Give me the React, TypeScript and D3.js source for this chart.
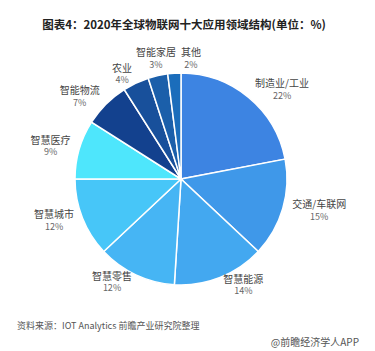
import React from 'react';
import * as d3 from 'd3';

const width = 375;
const height = 351;

const categories = ['制造业/工业', '交通/车联网', '智慧能源', '智慧零售', '智慧城市', '智慧医疗', '智能物流', '农业', '智能家居', '其他'];
const values = [22, 15, 14, 12, 12, 9, 7, 4, 3, 2];
const colors = ['#3d84e2', '#3f98e9', '#43a8f0', '#46b5f4', '#47c6f8', '#4ee6fc', '#13418e', '#18509b', '#1b5faa', '#1b6dbb'];

const title = '图表4：2020年全球物联网十大应用领域结构(单位：%)';
const source = '资料来源：IOT Analytics 前瞻产业研究院整理';
const credit = '@前瞻经济学人APP';

const cx = 181;
const cy = 179;
const radius = 106;
const labelRadius = 115;
const nameSize = 10;
const pctSize = 9;

function textWidth(s: string, fs: number) {
  let w = 0;
  for (const ch of s) w += /[\u3000-\u9fff\uff00-\uffef]/.test(ch) ? fs : fs * 0.55;
  return w;
}

export default function App() {
  const pie = d3.pie<number>().value(d => d).sort(null);
  const arcs = pie(values);
  const arc = d3.arc<d3.PieArcDatum<number>>().innerRadius(0).outerRadius(radius);

  // label placement: anchor on a ring, align by side, centre near the top
  const labels = arcs.map((a, i) => {
    const ang = (a.startAngle + a.endAngle) / 2;
    const ax = cx + Math.sin(ang) * labelRadius;
    const ay = cy - Math.cos(ang) * labelRadius;
    const w = textWidth(categories[i], nameSize);
    let mid: number;
    let y = ay;
    let centred = false;
    if (Math.abs(Math.sin(ang)) < 0.3) {
      mid = ax;
      centred = true;
      if (Math.cos(ang) > 0) y = ay - 7;
    } else if (Math.sin(ang) > 0) {
      mid = ax + w / 2;
    } else {
      mid = ax - w / 2;
    }
    return { i, x: mid, y, w, centred };
  });
  // push overlapping centred top labels apart, keep them on one row
  for (let k = 1; k < labels.length; k++) {
    const p = labels[k - 1];
    const c = labels[k];
    if (p.centred && c.centred && Math.abs(p.y - c.y) < 20) {
      const gap = (c.x - c.w / 2) - (p.x + p.w / 2);
      if (gap < 5) {
        c.x += 5 - gap;
        c.y = p.y;
      }
    }
  }

  return (
    <svg width={width} height={height} style={{ position: 'absolute', left: 0, top: 0, background: '#fff' }}
      fontFamily="'Noto Sans CJK SC', 'Noto Sans', sans-serif">
      <text x={184} y={26} textAnchor="middle" dominantBaseline="middle" fontSize={11.5} fontWeight="bold" fill="#222">{title}</text>
      <g>
        {arcs.map((a, i) => (
          <path key={i} d={arc(a) || ''} transform={`translate(${cx},${cy})`} fill={colors[i]} stroke="#fff" strokeWidth={1.5} />
        ))}
      </g>
      <g>
        {labels.map(l => (
          <g key={l.i}>
            <text x={l.x} y={l.y - 6} textAnchor="middle" dominantBaseline="middle" fontSize={nameSize} fill="#444">{categories[l.i]}</text>
            <text x={l.x} y={l.y + 6} textAnchor="middle" dominantBaseline="middle" fontSize={pctSize} fill="#666">{values[l.i]}%</text>
          </g>
        ))}
      </g>
      <text x={17} y={327} dominantBaseline="middle" fontSize={9} fill="#555">{source}</text>
      <text x={359} y={343} textAnchor="end" dominantBaseline="middle" fontSize={10} fill="#555">{credit}</text>
    </svg>
  );
}
